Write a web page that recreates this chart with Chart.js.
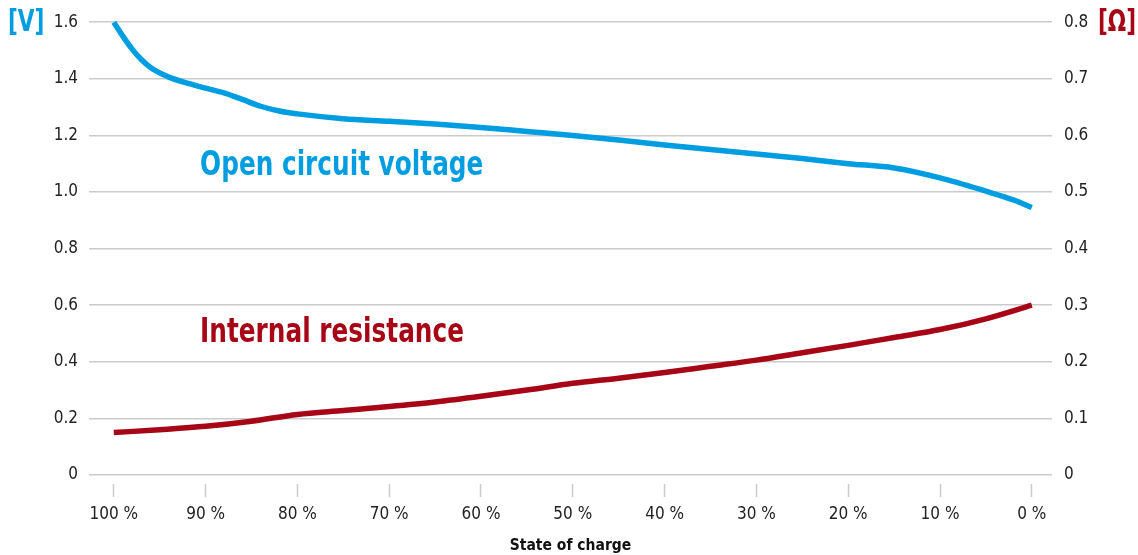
<!DOCTYPE html>
<html>
<head>
<meta charset="utf-8">
<script src="https://cdn.jsdelivr.net/npm/chart.js@4"></script>
<style>
  body { margin: 0; background: #fff; }
  #wrap { width: 1138px; height: 555px; }
</style>
</head>
<body>
<div id="wrap"><canvas id="chart"></canvas></div>
<script>
// state of charge, percent (axis runs 100 -> 0)
const chargeLevels = [0, 10, 20, 30, 40, 50, 60, 70, 80, 90, 100];

const voltageCharge = [100, 99, 98, 97, 96, 94, 92, 90, 88, 86, 84, 82, 80, 75, 70, 65, 60, 55, 50, 45, 40, 35, 30, 25, 20, 15, 10, 5, 2, 0];
const voltageValues = [1.60, 1.55, 1.505, 1.468, 1.440, 1.406, 1.385, 1.367, 1.35, 1.327, 1.303, 1.286, 1.276, 1.259, 1.25, 1.24, 1.228, 1.214, 1.20, 1.184, 1.166, 1.15, 1.134, 1.118, 1.10, 1.085, 1.05, 1.003, 0.972, 0.945];

const resistanceCharge = [100, 95, 90, 85, 80, 75, 70, 65, 60, 55, 50, 45, 40, 35, 30, 25, 20, 15, 10, 5, 0];
const resistanceValues = [0.075, 0.080, 0.086, 0.095, 0.107, 0.114, 0.121, 0.129, 0.139, 0.150, 0.162, 0.171, 0.181, 0.192, 0.203, 0.216, 0.229, 0.243, 0.257, 0.276, 0.300];

const voltTicks = [0, 0.2, 0.4, 0.6, 0.8, 1.0, 1.2, 1.4, 1.6];
const ohmTicks = [0, 0.1, 0.2, 0.3, 0.4, 0.5, 0.6, 0.7, 0.8];

const blue = 'rgb(0,158,224)';
const red = 'rgb(166,6,22)';
const gridColor = '#c9cbcd';
const narrow = '"Liberation Sans Narrow", "DejaVu Sans Condensed", "Liberation Sans", sans-serif';

const toPoints = (xs, ys) => xs.map((x, i) => ({ x: x, y: ys[i] }));

// condensed text: squeeze horizontally since no narrow font is installed
function squeezedText(ctx, text, x, y, squeeze) {
    ctx.save();
    ctx.translate(x, y);
    ctx.scale(squeeze, 1);
    ctx.fillText(text, 0, 0);
    ctx.restore();
}

const labelPlugin = {
    id: 'labels',
    afterDatasetsDraw(chart) {
        const ctx = chart.ctx;
        const x = chart.scales.x;
        const y = chart.scales.y;
        ctx.save();
        ctx.textBaseline = 'middle';
        ctx.textAlign = 'left';
        ctx.font = 'bold 30px ' + narrow;
        ctx.fillStyle = blue;
        squeezedText(ctx, '[V]', 8, 23, 0.8);
        ctx.fillStyle = red;
        squeezedText(ctx, '[Ω]', 1098, 23, 0.8);
        ctx.font = 'bold 34px ' + narrow;
        ctx.fillStyle = blue;
        squeezedText(ctx, 'Open circuit voltage', x.getPixelForValue(90.6), y.getPixelForValue(1.09), 0.81);
        ctx.fillStyle = red;
        squeezedText(ctx, 'Internal resistance', x.getPixelForValue(90.6), y.getPixelForValue(0.5), 0.81);
        ctx.restore();
    }
};

new Chart(document.getElementById('chart'), {
    type: 'line',
    data: {
        datasets: [{
            label: 'Open circuit voltage',
            data: toPoints(voltageCharge, voltageValues),
            borderColor: blue,
            borderWidth: 5.5,
            pointRadius: 0,
            cubicInterpolationMode: 'monotone',
            yAxisID: 'y',
            clip: false
        }, {
            label: 'Internal resistance',
            data: toPoints(resistanceCharge, resistanceValues),
            borderColor: red,
            borderWidth: 5.5,
            pointRadius: 0,
            cubicInterpolationMode: 'monotone',
            yAxisID: 'y1',
            clip: false
        }]
    },
    options: {
        responsive: true,
        maintainAspectRatio: false,
        animation: false,
        layout: { padding: { top: 20, left: 0, right: 0, bottom: 0 } },
        plugins: {
            legend: { display: false },
            tooltip: { enabled: false }
        },
        scales: {
            x: {
                type: 'linear',
                reverse: true,
                min: -2.2,
                max: 102.7,
                afterBuildTicks: scale => { scale.ticks = chargeLevels.map(v => ({ value: v })); },
                afterFit: scale => { scale.height = 80; },
                border: { display: false },
                grid: {
                    drawOnChartArea: false,
                    tickLength: 22,
                    tickColor: gridColor,
                    tickWidth: 1.5,
                    tickBorderDash: [0, 9, 13, 60]
                },
                ticks: {
                    padding: 7,
                    color: '#222',
                    font: { family: narrow, size: 17 },
                    callback: v => v + ' %'
                },
                title: {
                    display: true,
                    text: 'State of charge',
                    color: '#111',
                    padding: { top: 0, bottom: 0 },
                    font: { family: narrow, size: 15.5, weight: 'bold' }
                }
            },
            y: {
                position: 'left',
                min: 0,
                max: 1.6,
                afterBuildTicks: scale => { scale.ticks = voltTicks.map(v => ({ value: v })); },
                afterFit: scale => { scale.width = 89; },
                border: { display: false },
                grid: { color: gridColor, lineWidth: 1.5, drawTicks: false },
                ticks: {
                    padding: 11,
                    color: '#222',
                    font: { family: narrow, size: 17 },
                    callback: v => v === 0 ? '0' : v.toFixed(1)
                }
            },
            y1: {
                position: 'right',
                min: 0,
                max: 0.8,
                afterBuildTicks: scale => { scale.ticks = ohmTicks.map(v => ({ value: v })); },
                afterFit: scale => { scale.width = 86; },
                border: { display: false },
                grid: { drawOnChartArea: false, drawTicks: false },
                ticks: {
                    padding: 12,
                    color: '#222',
                    font: { family: narrow, size: 17 },
                    callback: v => v === 0 ? '0' : v.toFixed(1)
                }
            }
        }
    },
    plugins: [labelPlugin]
});
</script>
</body>
</html>
